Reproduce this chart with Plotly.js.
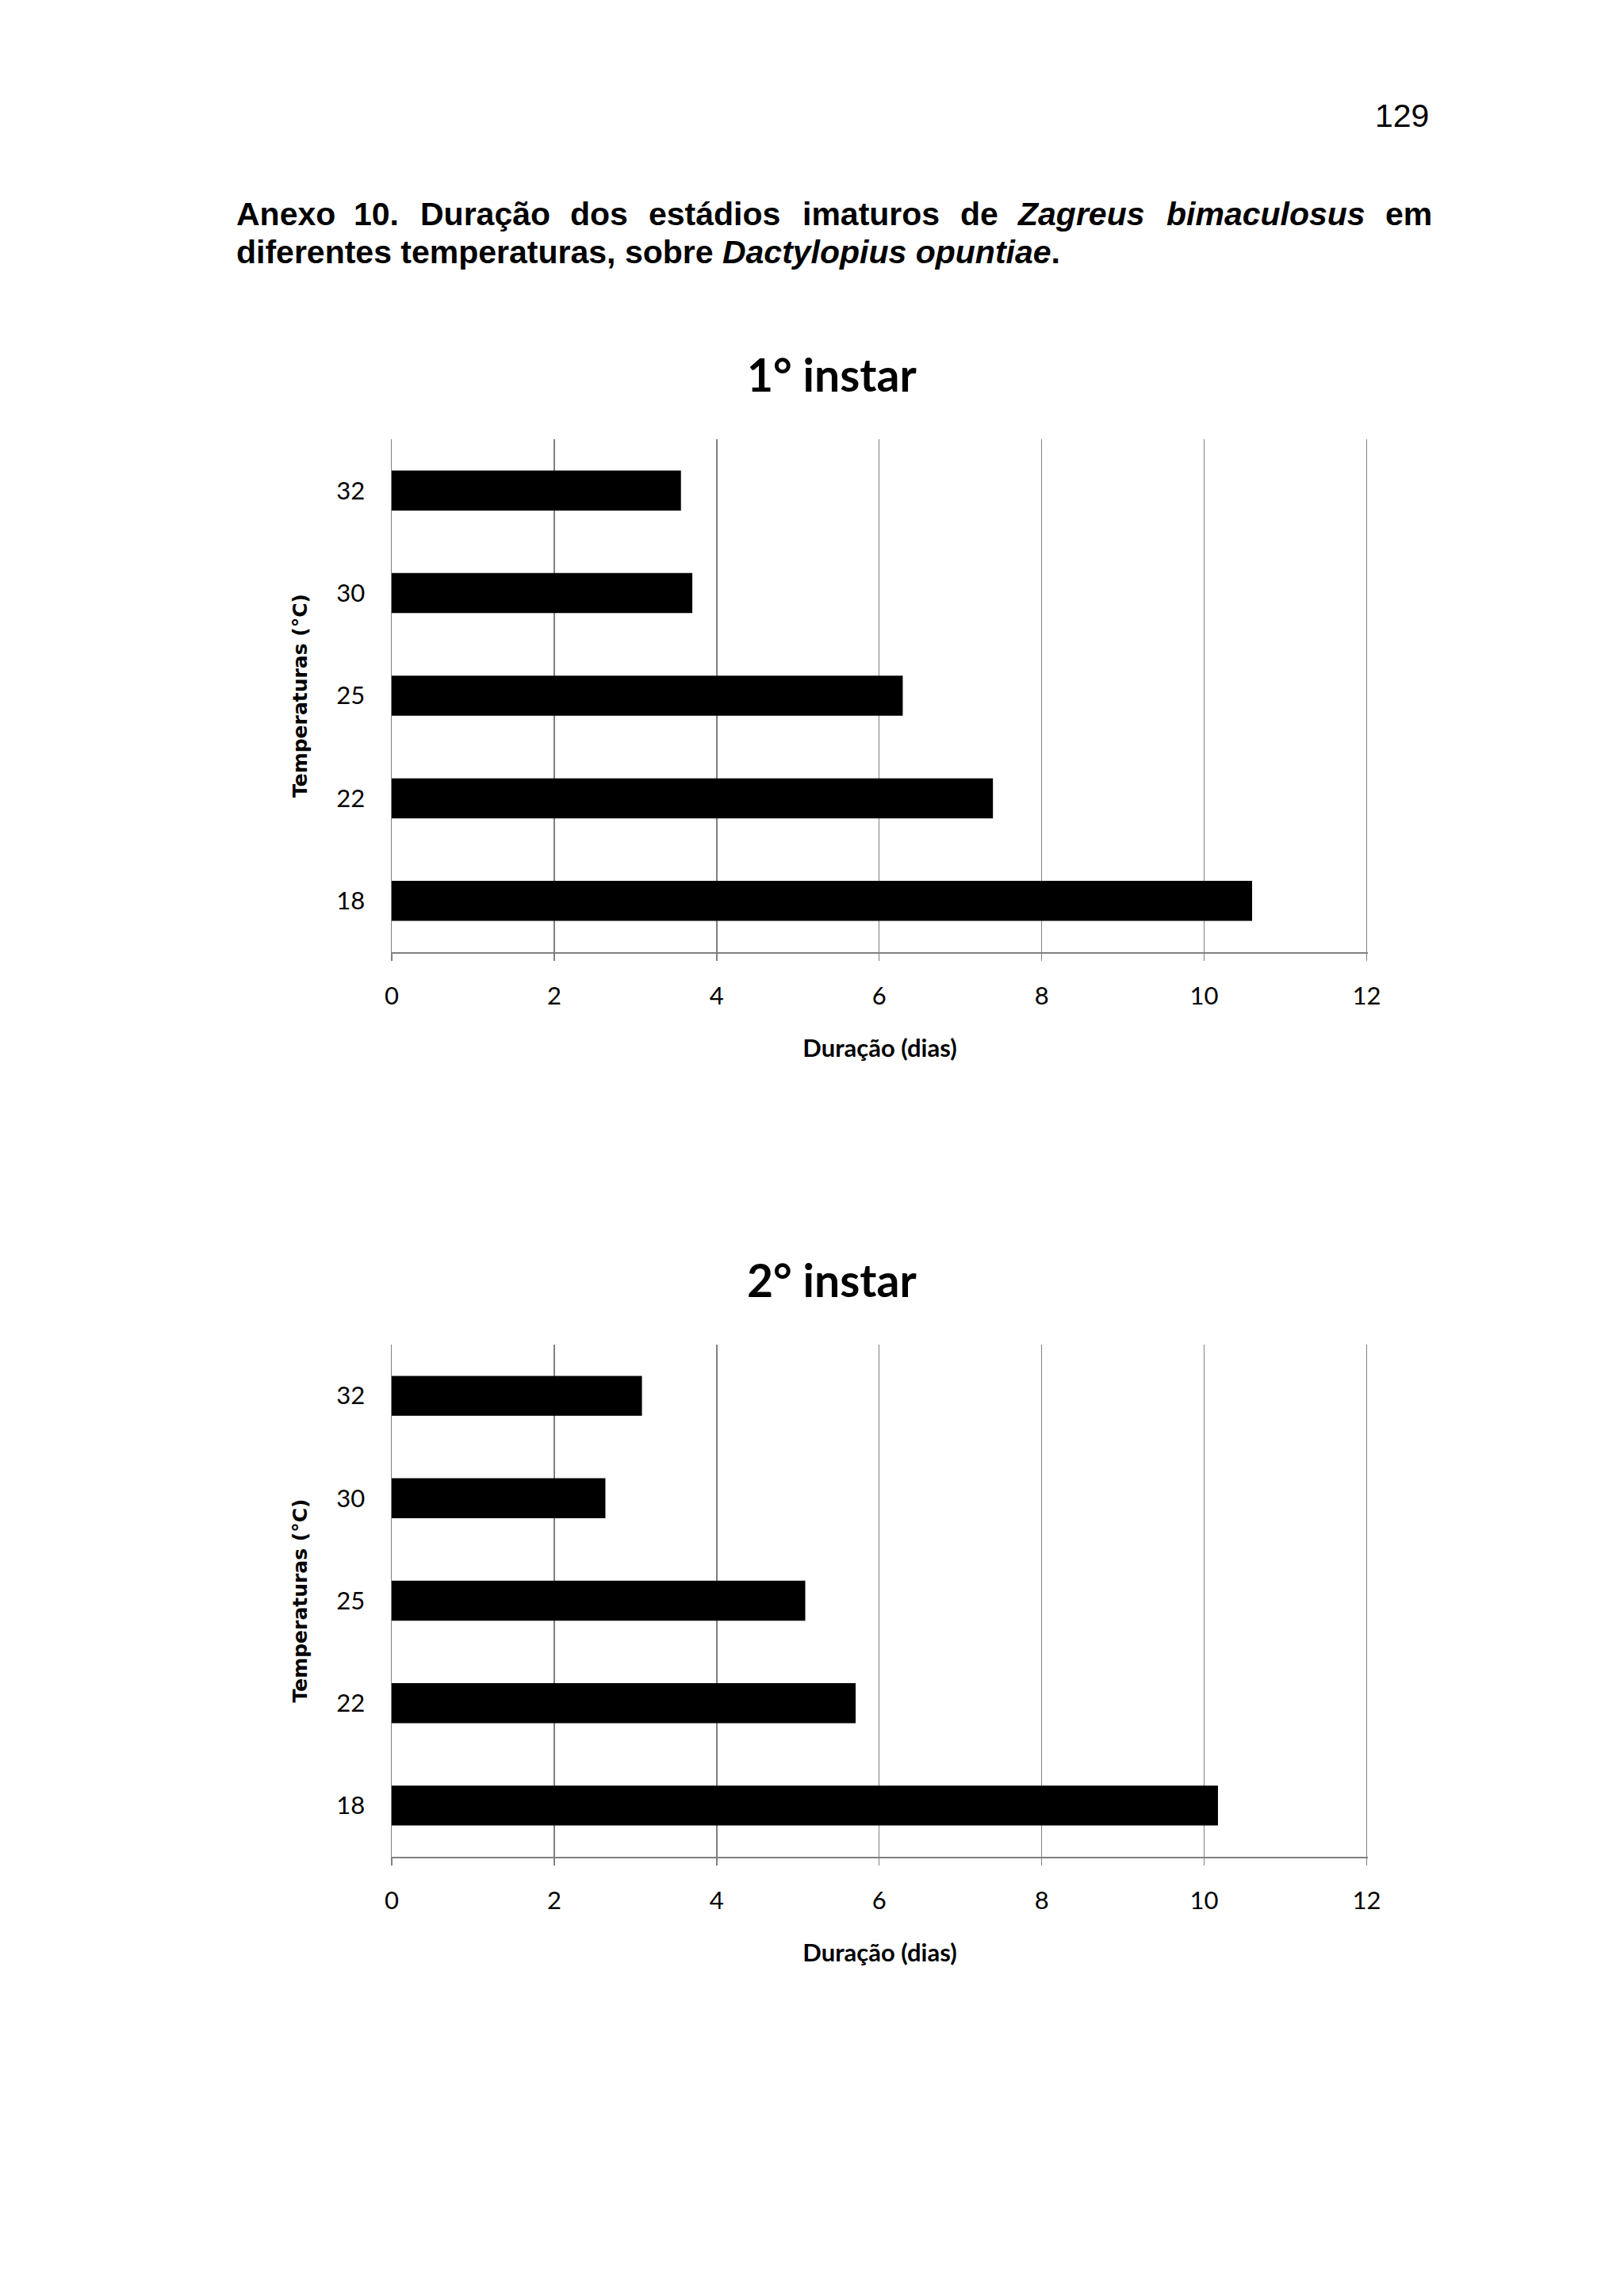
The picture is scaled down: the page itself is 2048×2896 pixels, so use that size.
<!DOCTYPE html>
<html><head><meta charset="utf-8">
<script src="https://cdn.plot.ly/plotly-3.0.1.min.js"></script>
<style>html,body{margin:0;padding:0;background:#fff}</style>
</head><body>
<div id="chart" style="width:2048px;height:2896px"></div>
<script>
// ---- data ----
const temperatures = ['18', '22', '25', '30', '32'];
const instar1Days = [10.59, 7.40, 6.29, 3.70, 3.56];
const instar2Days = [10.17, 5.71, 5.09, 2.63, 3.08];
const chartTitles = ['1° instar', '2° instar'];
const xAxisTitle = 'Duração (dias)';
const yAxisTitle = 'Temperaturas (°C)';
const xTickValues = [0, 2, 4, 6, 8, 10, 12];
const pageNumber = '129';
const captionLine1Words = ['Anexo', '10.', 'Duração', 'dos', 'estádios', 'imaturos', 'de', '<i>Zagreus</i>', '<i>bimaculosus</i>', 'em'];
const captionLine2 = 'diferentes temperaturas, sobre <i>Dactylopius opuntiae</i>.';

// ---- layout helpers ----
const W = 2048, H = 2896;
const px = x => x / W;
const py = y => 1 - y / H;
const wordLeft = [296, 444, 528, 717, 816, 1010, 1209, 1281, 1469, 1745];

const gridGray = '#808080';
const tickFont = {family: 'Lato, sans-serif', size: 31, color: '#000'};

function xAxis(anchor) {
  return {
    anchor: anchor, domain: [px(494), px(1725)], range: [0, 12.015],
    tickvals: xTickValues, ticktext: xTickValues.map(String),
    showgrid: true, gridcolor: gridGray, gridwidth: 1.5, zeroline: false,
    showline: true, linecolor: gridGray, linewidth: 1.5,
    ticks: 'outside', ticklen: 9, tickcolor: gridGray, tickwidth: 1.5,
    tickfont: tickFont, ticklabelstandoff: 18, fixedrange: true, automargin: false,
    title: {text: '<b>' + xAxisTitle + '</b>', font: {family: 'Lato, sans-serif', size: 31, color: '#000'}, standoff: 38}
  };
}
function yAxis(anchor, top, bottom) {
  return {
    anchor: anchor, domain: [py(bottom), py(top)], type: 'category',
    categoryorder: 'array', categoryarray: temperatures,
    showgrid: false, zeroline: false, showline: true, linecolor: gridGray, linewidth: 1.5,
    ticks: '', tickfont: tickFont, ticklabelstandoff: 26, fixedrange: true, automargin: false,
    title: {text: '<b>' + yAxisTitle + '</b>', font: {family: 'DejaVu Sans, sans-serif', size: 25, color: '#000'}, standoff: 29}
  };
}

const barStyle = {color: '#000', line: {width: 0}};
const traces = [
  {type: 'bar', orientation: 'h', x: instar1Days, y: temperatures, xaxis: 'x', yaxis: 'y', marker: barStyle, hoverinfo: 'x+y'},
  {type: 'bar', orientation: 'h', x: instar2Days, y: temperatures, xaxis: 'x2', yaxis: 'y2', marker: barStyle, hoverinfo: 'x+y'}
];

const capFont = {family: 'Liberation Sans, Arial, sans-serif', size: 41, color: '#000'};
const annotations = [];
annotations.push({xref: 'paper', yref: 'paper', x: px(1804), y: py(146), xanchor: 'right', yanchor: 'middle',
  text: pageNumber, showarrow: false, font: {family: 'Liberation Sans, Arial, sans-serif', size: 41, color: '#000'}});
captionLine1Words.forEach((w, i) => {
  annotations.push({xref: 'paper', yref: 'paper', x: px(wordLeft[i]), y: py(270), xanchor: 'left', yanchor: 'middle',
    text: '<b>' + w + '</b>', showarrow: false, font: capFont});
});
annotations.push({xref: 'paper', yref: 'paper', x: px(296), y: py(318), xanchor: 'left', yanchor: 'middle',
  text: '<b>' + captionLine2 + '</b>', showarrow: false, font: capFont});
[[chartTitles[0], 472], [chartTitles[1], 1614]].forEach(([t, y]) => {
  annotations.push({xref: 'paper', yref: 'paper', x: px(1049), y: py(y), xanchor: 'center', yanchor: 'middle',
    text: '<b>' + t + '</b>', showarrow: false, font: {family: 'Lato, sans-serif', size: 57, color: '#000'}});
});

const layout = {
  width: W, height: H, margin: {l: 0, r: 0, t: 0, b: 0},
  paper_bgcolor: '#fff', plot_bgcolor: '#fff', showlegend: false,
  bargap: 0.61,
  xaxis: xAxis('y'), yaxis: yAxis('x', 554, 1201),
  xaxis2: xAxis('y2'), yaxis2: yAxis('x2', 1696, 2342),
  annotations: annotations
};

Plotly.newPlot('chart', traces, layout, {staticPlot: true, displayModeBar: false});
</script>
</body></html>
